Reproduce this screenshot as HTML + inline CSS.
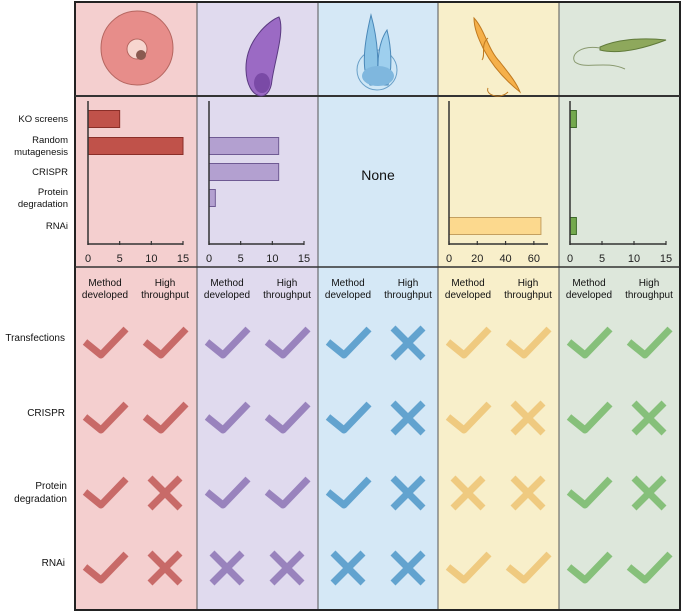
<!DOCTYPE html>
<html><head><meta charset="utf-8"><style>
body{margin:0;background:#fff;font-family:"Liberation Sans",sans-serif}
svg text{font-family:"Liberation Sans",sans-serif}
</style></head><body>
<svg id="s" width="682" height="611" xmlns="http://www.w3.org/2000/svg">
<g id="bg"></g>
<g id="icons"></g>
<g id="charts"></g>
<g id="table"></g>
</svg>
<script>
const NS="http://www.w3.org/2000/svg";
const svg=document.getElementById('s');
function el(tag,attrs,parent,text){const e=document.createElementNS(NS,tag);for(const k in attrs)e.setAttribute(k,attrs[k]);if(text!==undefined)e.textContent=text;(parent||svg).appendChild(e);return e;}
const organisms=["plasmodium","toxoplasma","cryptosporidium","trypanosoma","leishmania"];
const colX=[75,197,318,438,559,680];
const bgCols=["#f4cfcf","#e0daee","#d5e8f6","#f8efca","#dde7db"];
const barFill=["#c0524a","#b3a0d0","#ffffff","#fcd98e","#74a94e"];
const barStroke=["#8a2e28","#6f5a93","#333","#c4a060","#3d6a28"];
const markColor=["#c86a68","#9983bd","#62a3cf","#efca80","#86c07a"];
const methods=["KO screens","Random mutagenesis","CRISPR","Protein degradation","RNAi"];
// bar values per organism, order = methods
const valsPlasmodium=[5,15,0,0,0];
const valsToxoplasma=[0,11,11,1,0];
const valsCrypto=null;
const valsTrypanosoma=[0,0,0,0,65];
const valsLeishmania=[1,0,0,0,1];
const allVals=[valsPlasmodium,valsToxoplasma,valsCrypto,valsTrypanosoma,valsLeishmania];
const axisMax=[15,15,15,70,15];
const ticks15=[0,5,10,15];
const ticks70=[0,20,40,60];
const allTicks=[ticks15,ticks15,null,ticks70,ticks15];
const rowsT=["Transfections","CRISPR","Protein degradation","RNAi"];
// 1 = check, 0 = cross; [method developed, high throughput]
const marksT=[
 [[1,1],[1,1],[1,0],[1,1],[1,1]],
 [[1,1],[1,1],[1,0],[1,0],[1,0]],
 [[1,0],[1,1],[1,0],[0,0],[1,0]],
 [[1,0],[0,0],[0,0],[1,1],[1,1]]
];
const bg=document.getElementById('bg');
for(let i=0;i<5;i++){
 const r=el('rect',{x:colX[i],y:2,width:colX[i+1]-colX[i],height:608,fill:bgCols[i],stroke:"#555","stroke-width":1},bg);
 
 
}
el('rect',{x:75,y:2,width:605,height:608,fill:"none",stroke:"#222","stroke-width":2},bg);
el('line',{x1:75,y1:96,x2:680,y2:96,stroke:"#333","stroke-width":2},bg);
el('line',{x1:75,y1:267,x2:680,y2:267,stroke:"#333","stroke-width":1.5},bg);
// icons
const ic=document.getElementById('icons');
let g=el('g',{},ic);
el('ellipse',{cx:137,cy:48,rx:36,ry:37,fill:"#e78d8a",stroke:"#b56660"},g);
el('circle',{cx:137,cy:49,r:10,fill:"#f7d6cf",stroke:"#b56660"},g);
el('circle',{cx:141,cy:55,r:5,fill:"#8a5a50"},g);
g=el('g',{},ic);
el('path',{d:"M279 17 C270 20 245 40 246 70 C247 100 270 105 272 80 C275 60 285 30 279 17Z",fill:"#9b6ac4",stroke:"#5a3a80"},g);
el('ellipse',{cx:262,cy:83,rx:8,ry:10,fill:"#7a4aa6"},g);
g=el('g',{},ic);
el('ellipse',{cx:377,cy:70,rx:20,ry:20,fill:"#cfe7f6",stroke:"#6aa0c8"},g);
el('path',{d:"M370 85 C360 70 365 40 371 15 C378 40 380 70 375 85Z",fill:"#8cc4e6",stroke:"#4a88b8"},g);
el('path',{d:"M380 85 C375 60 380 40 387 30 C392 50 392 70 388 85Z",fill:"#9ecfee",stroke:"#4a88b8"},g);
el('ellipse',{cx:378,cy:76,rx:16,ry:10,fill:"#7fb7de"},g);
g=el('g',{},ic);
el('path',{d:"M474 18 C485 30 488 50 500 62 C510 75 516 82 520 92 C505 80 492 65 484 50 C478 38 474 28 474 18Z",fill:"#f5b04a",stroke:"#c07a20"},g);
el('path',{d:"M488 38 C480 45 486 55 482 60 M508 92 C500 100 485 95 488 88",fill:"none",stroke:"#c07a20"},g);
g=el('g',{},ic);
el('path',{d:"M600 47 C615 40 640 37 666 40 C645 48 620 55 600 50Z",fill:"#8ea85c",stroke:"#607a3a"},g);
el('path',{d:"M600 48 C580 45 570 55 575 62 C585 70 605 60 625 69",fill:"none",stroke:"#8a9a70"},g);
// charts
const ch=document.getElementById('charts');
const rowY=[119,146,172,198,226];
methods.forEach((m,i)=>{
 const parts=m.split(' ');
 const t=el('text',{x:68,"text-anchor":"end","font-size":9.5,fill:"#111"},ch);
 
 if(m==="KO screens"||parts.length===1){el('tspan',{x:68,y:rowY[i]+3},t,m);}
 else{el('tspan',{x:68,y:rowY[i]-3},t,parts[0]);el('tspan',{x:68,y:rowY[i]+9},t,parts.slice(1).join(' '));}
});
const axisX=[88,209,0,449,570];
const axisW=[95,95,0,99,96];
for(let c=0;c<5;c++){
 const vals=allVals[c];
 if(!vals){const t=el('text',{x:378,y:180,"text-anchor":"middle","font-size":14,fill:"#111"},ch,"None");continue;}
 const x0=axisX[c],mx=axisMax[c],W=axisW[c];
 const sx=v=>x0+v/mx*W;
 vals.forEach((v,i)=>{if(v<=0)return;
  const b=el('rect',{x:x0,y:rowY[i]-8.5,width:sx(v)-x0,height:17,fill:barFill[c],stroke:barStroke[c],"stroke-width":1},ch);
  });
 el('line',{x1:x0,y1:101,x2:x0,y2:245,stroke:"#333","stroke-width":1.5},ch);
 el('line',{x1:x0,y1:244,x2:x0+W,y2:244,stroke:"#333","stroke-width":1.5},ch);
 allTicks[c].forEach(tv=>{
  el('line',{x1:sx(tv),y1:241,x2:sx(tv),y2:245,stroke:"#333","stroke-width":1.2},ch);
  const t=el('text',{x:sx(tv),y:262,"text-anchor":"middle","font-size":11,fill:"#222"},ch,tv);
  
 });
}
// table
const tb=document.getElementById('table');
for(let c=0;c<5;c++){
 const L=colX[c];
 [["Method","developed",L+30],["High","throughput",L+90]].forEach(h=>{
  const t=el('text',{x:h[2],"text-anchor":"middle","font-size":10,fill:"#111"},tb);
  
  el('tspan',{x:h[2],y:286},t,h[0]);el('tspan',{x:h[2],y:298},t,h[1]);
 });
}
const tRowY=[343,418,493,568];
rowsT.forEach((r,i)=>{
 const t=el('text',{x:65,"text-anchor":"end","font-size":10,fill:"#111"},tb);
 
 if(r==="Protein degradation"){el('tspan',{x:67,y:tRowY[i]-4},t,"Protein");el('tspan',{x:67,y:tRowY[i]+9},t,"degradation");}
 else el('tspan',{x:65,y:tRowY[i]-2},t,r);
 for(let c=0;c<5;c++)for(let k=0;k<2;k++){
  const cx=colX[c]+30+k*60,cy=tRowY[i];
  let p;
  if(marksT[i][c][k]===1) p=el('path',{d:`M${cx-20} ${cy-1} L${cx-4} ${cy+12} L${cx+21} ${cy-14}`,fill:"none",stroke:markColor[c],"stroke-width":7,"stroke-linecap":"butt","stroke-linejoin":"round"},tb);
  else p=el('path',{d:`M${cx-15} ${cy-15} L${cx+15} ${cy+15} M${cx+15} ${cy-15} L${cx-15} ${cy+15}`,fill:"none",stroke:markColor[c],"stroke-width":7,"stroke-linecap":"butt"},tb);
  
  
 }
});
</script>
</body></html>
